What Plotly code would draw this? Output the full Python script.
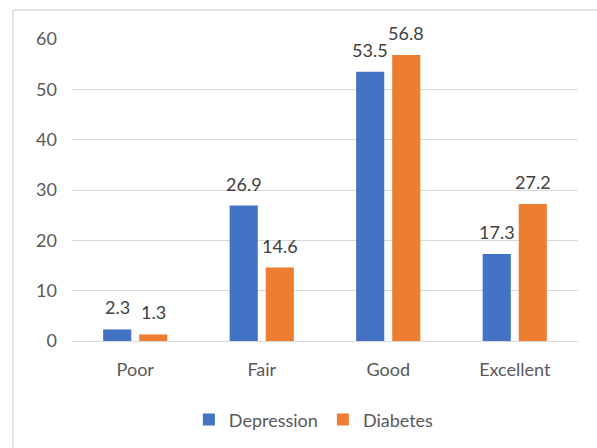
import plotly.graph_objects as go

categories = ["Poor", "Fair", "Good", "Excellent"]
depression = [2.3, 26.9, 53.5, 17.3]
diabetes = [1.3, 14.6, 56.8, 27.2]
y_ticks = [0, 10, 20, 30, 40, 50, 60]

BLUE = "#4472C4"
ORANGE = "#ED7D31"
TEXT = "#595959"
GRID = "#D9D9D9"
FONT = "Lato, 'Open Sans', sans-serif"
SIZE = 18

fig = go.Figure()
fig.add_trace(go.Bar(name="Depression", x=categories, y=depression,
                     marker=dict(color=BLUE, line=dict(width=0))))
fig.add_trace(go.Bar(name="Diabetes", x=categories, y=diabetes,
                     marker=dict(color=ORANGE, line=dict(width=0))))

# value labels above each bar
annotations = []
for vals, shift in ((depression, -18), (diabetes, 18)):
    for cat, v in zip(categories, vals):
        annotations.append(dict(x=cat, y=v, xref="x", yref="y", text=f"{v}",
                                showarrow=False, xshift=shift, yshift=22,
                                font=dict(size=SIZE, color="#404040", family=FONT)))

fig.update_layout(
    width=597, height=448,
    margin=dict(l=72, r=19, t=39, b=107, autoexpand=False),
    paper_bgcolor="white", plot_bgcolor="white",
    barmode="group", bargap=0.43, bargroupgap=0.22,
    font=dict(family=FONT, size=SIZE, color=TEXT),
    annotations=annotations,
    legend=dict(orientation="h", x=0.478, xanchor="center", y=-0.2, yanchor="top",
                font=dict(size=SIZE, color=TEXT), itemwidth=30,
                traceorder="normal"),
    xaxis=dict(showgrid=False, showline=False, ticks="", ticklabelstandoff=16,
               automargin=False, tickfont=dict(size=SIZE, color=TEXT)),
    yaxis=dict(range=[0, 60], tickvals=y_ticks, showgrid=True, gridcolor=GRID,
               gridwidth=1, zeroline=True, zerolinecolor=GRID, zerolinewidth=1,
               showline=False, ticks="", ticklabelstandoff=14, automargin=False,
               tickfont=dict(size=SIZE, color=TEXT)),
    shapes=[
        dict(type="line", xref="paper", yref="paper", x0=-0.1166, x1=-0.1166,
             y0=1.096, y1=-0.5, line=dict(color=GRID, width=1.5)),
        dict(type="line", xref="paper", yref="paper", x0=-0.1166, x1=1.1,
             y0=1.096, y1=1.096, line=dict(color=GRID, width=1.5)),
    ],
)

fig.write_html("out.html")
